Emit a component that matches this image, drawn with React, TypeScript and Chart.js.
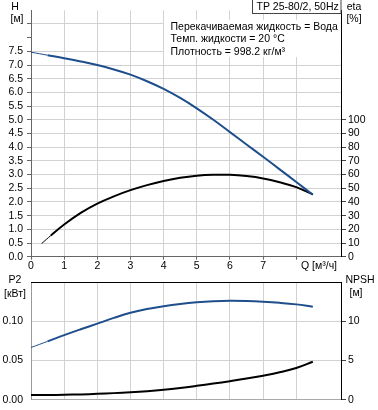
import React, { useEffect, useRef } from 'react';
import { Chart, registerables } from 'chart.js';

Chart.register(...registerables);

const FONT = "'Liberation Sans', Arial, sans-serif";
const BLUE = '#1f4e8c';
const GRID = '#d2d2d2';

// Performance curve H(Q)
const qPerf = [0, 0.5, 1, 1.5, 2, 2.5, 3, 3.5, 4, 4.5, 5, 5.5, 6, 6.5, 7, 7.5, 8, 8.5];
const headM = [7.47, 7.36, 7.25, 7.13, 7.0, 6.84, 6.65, 6.41, 6.13, 5.8, 5.42, 5.0, 4.55, 4.1, 3.65, 3.19, 2.73, 2.26];

// Efficiency eta(Q)
const qEta = [0.32, 0.6, 1, 1.5, 2, 2.5, 3, 3.5, 4, 4.5, 5, 5.5, 6, 6.5, 7, 7.5, 8, 8.5];
const etaPct = [9.6, 15.5, 23.5, 32, 38.8, 44.1, 48.6, 52.3, 55.3, 57.6, 59.1, 59.8, 59.8, 58.9, 57.2, 54.4, 50.8, 45.5];

// Power P2(Q) and NPSH(Q)
const qPower = [0, 0.5, 1, 1.5, 2, 2.5, 3, 3.5, 4, 4.5, 5, 5.5, 6, 6.5, 7, 7.5, 8, 8.5];
const p2kW = [0.0667, 0.0745, 0.0825, 0.09, 0.0972, 0.1045, 0.111, 0.1158, 0.1195, 0.1224, 0.1245, 0.1258, 0.1264, 0.1261, 0.1252, 0.1238, 0.1218, 0.1188];
const npshM = [0.59, 0.6, 0.63, 0.68, 0.75, 0.84, 0.95, 1.09, 1.27, 1.5, 1.77, 2.06, 2.37, 2.7, 3.07, 3.5, 4.05, 4.85];

const xLabelsShown = [0, 1, 2, 3, 4, 5, 6, 7];
const titleText = 'TP 25-80/2, 50Hz';
const infoLines = ['Перекачиваемая жидкость = Вода', 'Темп. жидкости = 20 °C', 'Плотность = 998.2 кг/м³'];

const Q_MAX = 9.35;

const pts = (xs: number[], ys: number[]) => xs.map((x, i) => ({ x, y: ys[i] }));

const thinFirst = {
  borderWidth: (c: any) => (c.p0DataIndex === 0 ? 1 : 2),
};

const topDecor = {
  id: 'topDecor',
  beforeDatasetsDraw(chart: any) {
    const ctx = chart.ctx;
    const { right } = chart.chartArea;
    ctx.save();
    ctx.fillStyle = '#fff';
    ctx.fillRect(164, 20, right - 164 - 0.5, 37);
    ctx.restore();
  },
  afterDraw(chart: any) {
    const ctx = chart.ctx;
    const { right } = chart.chartArea;
    ctx.save();
    ctx.font = `10.5px ${FONT}`;
    ctx.fillStyle = '#000';
    ctx.textBaseline = 'middle';
    ctx.textAlign = 'left';
    infoLines.forEach((t, i) => ctx.fillText(t, 170.5, 27 + i * 12.5));
    // title box
    ctx.fillStyle = '#fff';
    ctx.fillRect(252.5, 0, right - 252.5, 13.5);
    ctx.strokeStyle = '#444';
    ctx.lineWidth = 1;
    ctx.strokeRect(252.5, -0.5, right - 252.5, 14);
    ctx.fillStyle = '#000';
    ctx.fillText(titleText, 256.5, 7.5);
    // axis titles
    ctx.textAlign = 'center';
    ctx.fillText('H', 15, 7.5);
    ctx.fillText('[м]', 17, 19.5);
    ctx.fillText('eta', 354, 7.5);
    ctx.fillText('[%]', 354, 19.5);
    ctx.textAlign = 'left';
    ctx.fillText('Q [м³/ч]', 301, 266.5);
    ctx.restore();
  },
};

const bottomDecor = {
  id: 'bottomDecor',
  afterDraw(chart: any) {
    const ctx = chart.ctx;
    const { left, right, top } = chart.chartArea;
    ctx.save();
    ctx.strokeStyle = '#000';
    ctx.lineWidth = 1;
    ctx.beginPath();
    ctx.moveTo(left, Math.round(top) + 0.5);
    ctx.lineTo(right + 0.5, Math.round(top) + 0.5);
    ctx.stroke();
    ctx.font = `10.5px ${FONT}`;
    ctx.fillStyle = '#000';
    ctx.textBaseline = 'middle';
    ctx.textAlign = 'center';
    ctx.fillText('P2', 15, 8.5);
    ctx.fillText('[кВт]', 15, 22);
    ctx.fillText('NPSH', 360, 8.5);
    ctx.fillText('[м]', 356, 21.5);
    ctx.restore();
  },
};

const intTicks = (s: any) => {
  s.ticks = s.ticks.filter((t: any) => Number.isInteger(Math.round(t.value * 1000) / 1000) && t.value <= 9);
};

export default function App() {
  const topRef = useRef<HTMLCanvasElement | null>(null);
  const botRef = useRef<HTMLCanvasElement | null>(null);

  useEffect(() => {
    Chart.defaults.font.family = FONT;
    Chart.defaults.font.size = 10.5;
    Chart.defaults.color = '#000';

    const top = new Chart(topRef.current as HTMLCanvasElement, {
      type: 'line',
      data: {
        datasets: [
          {
            data: pts(qPerf, headM),
            xAxisID: 'x',
            yAxisID: 'yH',
            borderColor: BLUE,
            borderWidth: 2,
            pointRadius: 0,
            tension: 0.4,
            segment: thinFirst,
          } as any,
          {
            data: pts(qEta, etaPct),
            xAxisID: 'x',
            yAxisID: 'yEta',
            borderColor: '#000',
            borderWidth: 2,
            pointRadius: 0,
            tension: 0.4,
            segment: thinFirst,
          } as any,
        ],
      },
      options: {
        responsive: false,
        animation: false,
        events: [],
        layout: { padding: { top: 0, left: 0, right: 0, bottom: 0 } },
        plugins: { legend: { display: false }, tooltip: { enabled: false } },
        scales: {
          x: {
            type: 'linear',
            min: 0,
            max: Q_MAX,
            afterBuildTicks: intTicks,
            afterFit: (s: any) => {
              s.height = 272 - 256.7;
            },
            ticks: {
              stepSize: 1,
              autoSkip: false,
              maxRotation: 0,
              padding: 0,
              callback: (v: any) => (xLabelsShown.includes(Number(v)) ? String(v) : ''),
            },
            grid: { color: GRID, lineWidth: 1, tickLength: 3, tickColor: '#666' },
            border: { color: '#666', width: 1 },
          },
          yH: {
            type: 'linear',
            position: 'left',
            min: 0,
            max: 9,
            afterBuildTicks: (s: any) => {
              s.ticks = s.ticks.filter((t: any) => t.value <= 8.5);
            },
            afterFit: (s: any) => {
              s.width = 31;
            },
            ticks: {
              stepSize: 0.5,
              autoSkip: false,
              padding: 4,
              callback: (v: any) => (Number(v) <= 7.5 ? Number(v).toFixed(1) : ''),
            },
            grid: {
              color: (c: any) => (c.tick && Math.abs(c.tick.value - 8) < 1e-6 ? 'rgba(0,0,0,0)' : GRID),
              lineWidth: 1,
              tickLength: 4,
              tickColor: '#666',
            },
            border: { color: '#666', width: 1 },
          },
          yEta: {
            type: 'linear',
            position: 'right',
            min: 0,
            max: 180,
            afterBuildTicks: (s: any) => {
              s.ticks = s.ticks.filter((t: any) => t.value <= 100);
            },
            afterFit: (s: any) => {
              s.width = 37;
            },
            ticks: { stepSize: 10, autoSkip: false, padding: 2 },
            grid: { drawOnChartArea: false, tickLength: 5, tickColor: '#444' },
            border: { color: '#000', width: 1 },
          },
        },
      },
      plugins: [topDecor],
    } as any);

    const bot = new Chart(botRef.current as HTMLCanvasElement, {
      type: 'line',
      data: {
        datasets: [
          {
            data: pts(qPower, p2kW),
            xAxisID: 'x',
            yAxisID: 'yP',
            borderColor: BLUE,
            borderWidth: 2,
            pointRadius: 0,
            tension: 0.4,
            segment: thinFirst,
          } as any,
          {
            data: pts(qPower, npshM),
            xAxisID: 'x',
            yAxisID: 'yN',
            borderColor: '#000',
            borderWidth: 2,
            pointRadius: 0,
            tension: 0.4,
          } as any,
        ],
      },
      options: {
        responsive: false,
        animation: false,
        events: [],
        layout: { padding: { top: 2.5, left: 0, right: 0, bottom: 0 } },
        plugins: { legend: { display: false }, tooltip: { enabled: false } },
        scales: {
          x: {
            type: 'linear',
            min: 0,
            max: Q_MAX,
            afterBuildTicks: intTicks,
            afterFit: (s: any) => {
              s.height = 138 - 129.7;
            },
            ticks: { display: false, stepSize: 1 },
            grid: { color: GRID, lineWidth: 1, drawTicks: false },
            border: { color: '#aaa', width: 1 },
          },
          yP: {
            type: 'linear',
            position: 'left',
            min: 0,
            max: 0.15,
            afterBuildTicks: (s: any) => {
              s.ticks = s.ticks.filter((t: any) => t.value <= 0.1 + 1e-9);
            },
            afterFit: (s: any) => {
              s.width = 31;
            },
            ticks: {
              stepSize: 0.05,
              autoSkip: false,
              padding: 4,
              callback: (v: any) => Number(v).toFixed(2),
            },
            grid: { color: GRID, lineWidth: 1, tickLength: 4, tickColor: 'rgba(0,0,0,0)' },
            border: { color: '#999', width: 1 },
          },
          yN: {
            type: 'linear',
            position: 'right',
            min: 0,
            max: 15,
            afterBuildTicks: (s: any) => {
              s.ticks = s.ticks.filter((t: any) => t.value <= 10);
            },
            afterFit: (s: any) => {
              s.width = 37;
            },
            ticks: { stepSize: 5, autoSkip: false, padding: 2 },
            grid: { drawOnChartArea: false, tickLength: 5, tickColor: '#444' },
            border: { color: '#000', width: 1 },
          },
        },
      },
      plugins: [bottomDecor],
    } as any);

    return () => {
      top.destroy();
      bot.destroy();
    };
  }, []);

  return (
    <div style={{ position: 'absolute', left: 0, top: 0, width: 378, height: 410, background: '#fff' }}>
      <canvas ref={topRef} width={378} height={272} style={{ position: 'absolute', left: 0, top: 0, width: 378, height: 272 }} />
      <canvas ref={botRef} width={378} height={138} style={{ position: 'absolute', left: 0, top: 272, width: 378, height: 138 }} />
    </div>
  );
}
